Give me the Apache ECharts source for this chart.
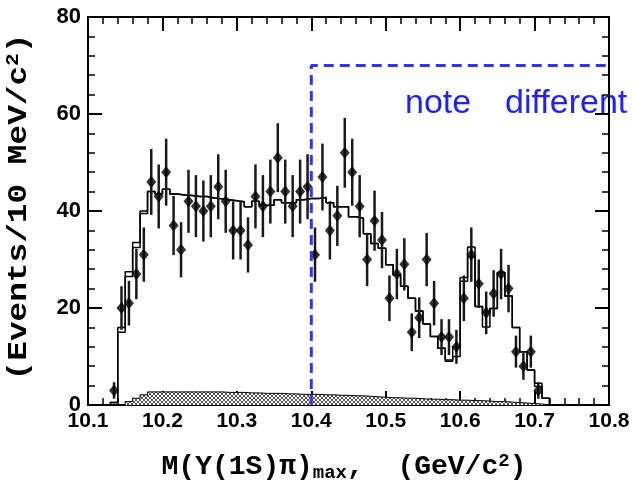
<!DOCTYPE html>
<html>
<head>
<meta charset="utf-8">
<script src="https://cdn.jsdelivr.net/npm/echarts@6/dist/echarts.min.js"></script>
<style>
html, body { margin: 0; padding: 0; background: #fff; }
#main { width: 634px; height: 486px; }
</style>
</head>
<body>
<div id="main"></div>
<script>
// data points: bin centres (GeV/c^2), counts, errors
const massCenters = [10.135, 10.145, 10.155, 10.165, 10.175, 10.185, 10.195, 10.205, 10.215, 10.225,
  10.235, 10.245, 10.255, 10.265, 10.275, 10.285, 10.295, 10.305, 10.315, 10.325,
  10.335, 10.345, 10.355, 10.365, 10.375, 10.385, 10.395, 10.405, 10.415, 10.425,
  10.435, 10.445, 10.455, 10.465, 10.475, 10.485, 10.495, 10.505, 10.515, 10.525,
  10.535, 10.545, 10.555, 10.565, 10.575, 10.585, 10.595, 10.605, 10.615, 10.625,
  10.635, 10.645, 10.655, 10.665, 10.675, 10.685, 10.695, 10.705];
const counts = [3, 20, 21, 27, 31, 46, 43, 48, 37, 32,
  42, 41, 40, 41, 45, 42, 36, 36, 33, 43,
  41, 44, 51, 44, 41, 44, 45, 31, 47, 36,
  39, 52, 48, 41, 30, 38, 34, 22, 27, 29,
  15, 18, 30, 21, 14, 14, 12, 22, 31, 25,
  19, 23, 27, 24, 11, 8, 11, 3];
const errors = [1.7, 4.5, 4.6, 5.2, 5.6, 6.8, 6.6, 6.9, 6.1, 5.7,
  6.5, 6.4, 6.3, 6.4, 6.7, 6.5, 6.0, 6.0, 5.7, 6.6,
  6.4, 6.6, 7.1, 6.6, 6.4, 6.6, 6.7, 5.6, 6.9, 6.0,
  6.2, 7.2, 6.9, 6.4, 5.5, 6.2, 5.8, 4.7, 5.2, 5.4,
  3.9, 4.2, 5.5, 4.6, 3.7, 3.7, 3.5, 4.7, 5.6, 5.0,
  4.4, 4.8, 5.2, 4.9, 3.3, 2.8, 3.3, 1.7];

// histogram bin left edges (last one closes the final bin)
const binEdges = [10.12, 10.13, 10.14, 10.15, 10.16, 10.17, 10.18, 10.19, 10.20, 10.21,
  10.22, 10.23, 10.24, 10.25, 10.26, 10.27, 10.28, 10.29, 10.30, 10.31,
  10.32, 10.33, 10.34, 10.35, 10.36, 10.37, 10.38, 10.39, 10.40, 10.41,
  10.42, 10.43, 10.44, 10.45, 10.46, 10.47, 10.48, 10.49, 10.50, 10.51,
  10.52, 10.53, 10.54, 10.55, 10.56, 10.57, 10.58, 10.59, 10.60, 10.61,
  10.62, 10.63, 10.64, 10.65, 10.66, 10.67, 10.68, 10.69, 10.70, 10.71, 10.72];
// fit result (two nearly identical curves)
const fitA = [0, 0.5, 15, 26.5, 32.5, 39.5, 44, 43.5, 44.5, 43.5,
  43.3, 43.2, 43, 43, 42.7, 42.5, 42.3, 42.1, 41.9, 40.9,
  42, 41.2, 41.2, 42.3, 41.7, 41.7, 42.3, 42.6, 42.6, 42.8,
  41.7, 40.9, 40.9, 38.8, 38.5, 35.3, 33.3, 32.3, 28.9, 26.8,
  24.5, 22, 19.4, 16.7, 14.1, 11.7, 9.3, 10, 26.3, 32.6,
  20.3, 16.1, 19.9, 27.3, 22.5, 16, 11, 7.2, 3.8, 1.4, 0];
const fitB = [0, 0.5, 16, 27.5, 33.5, 40, 44, 43.5, 44.5, 43.5,
  43.3, 43.2, 43, 43, 42.7, 42.5, 42.3, 42.1, 41.9, 40.9,
  42, 41.2, 41.2, 42.3, 41.7, 41.7, 42.3, 42.6, 42.6, 42.8,
  41.7, 40.9, 40.9, 38.8, 38.5, 35.3, 33.3, 32.3, 28.9, 26.8,
  24.5, 22, 19.4, 16.7, 14.1, 11.7, 9.0, 12, 25.5, 30.6,
  20.3, 19.2, 19.9, 27.3, 22.5, 16, 11, 7.2, 4.5, 1.4, 0];
// background component (hatched)
const bkg = [0, 0, 0, 0.7, 1.4, 2.1, 2.7, 2.7, 2.7, 2.7,
  2.7, 2.7, 2.7, 2.7, 2.7, 2.7, 2.6, 2.6, 2.6, 2.5,
  2.5, 2.4, 2.4, 2.4, 2.3, 2.3, 2.2, 2.2, 2.2, 2.1,
  2.1, 2.0, 2.0, 1.9, 1.9, 1.8, 1.7, 1.6, 1.5, 1.5,
  1.4, 1.4, 1.3, 1.2, 1.2, 1.1, 1.1, 1.0, 1.0, 0.9,
  0.9, 0.8, 0.7, 0.7, 0.6, 0.5, 0.4, 0.3, 0.2, 0, 0];

// blue dashed box
const boxX = [10.4, 10.4, 10.835];
const boxY = [0, 70, 70];

const xTicks = { min: 10.1, max: 10.8, interval: 0.1 };
const yTicks = { min: 0, max: 80, interval: 20 };

// cross-hatch pattern, pixel exact
const hatch = document.createElement('canvas');
hatch.width = 4; hatch.height = 4;
const hc = hatch.getContext('2d');
hc.fillStyle = '#fff'; hc.fillRect(0, 0, 4, 4);
hc.fillStyle = '#555';
for (let i = 0; i < 4; i++) {
  hc.fillRect(i, i, 1, 1);
  hc.fillRect(3 - i, i, 1, 1);
}

const axisBase = {
  type: 'value',
  axisLine: { show: true, onZero: false, lineStyle: { color: '#000', width: 2 } },
  axisTick: { show: true, inside: true, length: 14, lineStyle: { color: '#000', width: 2 } },
  minorTick: { show: true, splitNumber: 5, length: 7, lineStyle: { color: '#000', width: 1.5 } },
  splitLine: { show: false },
  minorSplitLine: { show: false }
};
const labelFont = { color: '#000', fontFamily: 'Liberation Sans', fontWeight: 'bold', fontSize: 21 };
const monoFont = { fill: '#000', fontFamily: 'Liberation Mono', fontWeight: 'bold' };

let chartDom = document.getElementById('main');
let myChart = echarts.init(chartDom);

let option = {
  animation: false,
  grid: { left: 88, right: 25, top: 17, bottom: 81 },
  xAxis: [
    Object.assign({}, axisBase, xTicks, { position: 'bottom',
      axisLabel: Object.assign({ margin: 6, formatter: v => v.toFixed(1) }, labelFont) }),
    Object.assign({}, axisBase, xTicks, { position: 'top', axisLabel: { show: false } })
  ],
  yAxis: [
    Object.assign({}, axisBase, yTicks, { position: 'left',
      axisLabel: Object.assign({ margin: 7 }, labelFont, { fontSize: 22 }) }),
    Object.assign({}, axisBase, yTicks, { position: 'right', axisLabel: { show: false } })
  ],
  series: [
    {
      type: 'line', step: 'end', symbol: 'none',
      data: binEdges.map((x, i) => [x, bkg[i]]),
      lineStyle: { color: '#000', width: 1 },
      areaStyle: { color: { image: hatch, repeat: 'repeat' }, opacity: 1 },
      z: 1
    },
    {
      type: 'line', step: 'end', symbol: 'none',
      data: binEdges.map((x, i) => [x, fitB[i]]),
      lineStyle: { color: '#000', width: 1.5 },
      z: 2
    },
    {
      type: 'line', step: 'end', symbol: 'none',
      data: binEdges.map((x, i) => [x, fitA[i]]),
      lineStyle: { color: '#000', width: 1.5 },
      z: 2
    },
    {
      type: 'custom',
      data: massCenters.map((x, i) => [x, counts[i], errors[i]]),
      renderItem: function (params, api) {
        const x = api.value(0), y = api.value(1), e = api.value(2);
        const lo = api.coord([x, y - e]);
        const hi = api.coord([x, y + e]);
        return {
          type: 'line',
          shape: { x1: lo[0], y1: lo[1], x2: hi[0], y2: hi[1] },
          style: { stroke: '#1a1a1a', lineWidth: 2.5 }
        };
      },
      z: 3
    },
    {
      type: 'scatter',
      data: massCenters.map((x, i) => [x, counts[i]]),
      symbol: 'diamond', symbolSize: [10, 12],
      itemStyle: { color: '#000' },
      z: 4
    },
    {
      type: 'line', symbol: 'none', clip: false,
      data: boxX.map((x, i) => [x, boxY[i]]),
      lineStyle: { color: '#3434f5', width: 3, type: [10, 6] },
      z: 5
    }
  ],
  graphic: [
    {
      type: 'text', x: 19, y: 207, rotation: Math.PI / 2, scaleX: 1.17,
      style: {
        text: '{t|(Events/10 MeV/c}{s|2}{t|)}',
        align: 'center', verticalAlign: 'middle',
        rich: {
          t: Object.assign({ fontSize: 28 }, monoFont),
          s: Object.assign({ fontSize: 18, padding: [0, 0, 12, 0] }, monoFont)
        }
      }
    },
    {
      type: 'text', x: 344, y: 467,
      style: {
        text: '{t|M(Υ(1S)π)}{b|max}{t|,  (GeV/c}{s|2}{t|)}',
        align: 'center', verticalAlign: 'middle',
        rich: {
          t: Object.assign({ fontSize: 28 }, monoFont),
          b: Object.assign({ fontSize: 19, padding: [12, 0, 0, 0] }, monoFont),
          s: Object.assign({ fontSize: 19, padding: [0, 0, 12, 0] }, monoFont)
        }
      }
    },
    {
      type: 'text', x: 405, y: 104,
      style: { text: 'note', fill: '#2222ee', fontFamily: 'Liberation Sans', fontSize: 34, verticalAlign: 'middle' }
    },
    {
      type: 'text', x: 505, y: 104,
      style: { text: 'different', fill: '#2222ee', fontFamily: 'Liberation Sans', fontSize: 34, verticalAlign: 'middle' }
    }
  ]
};

option && myChart.setOption(option);
</script>
</body>
</html>
